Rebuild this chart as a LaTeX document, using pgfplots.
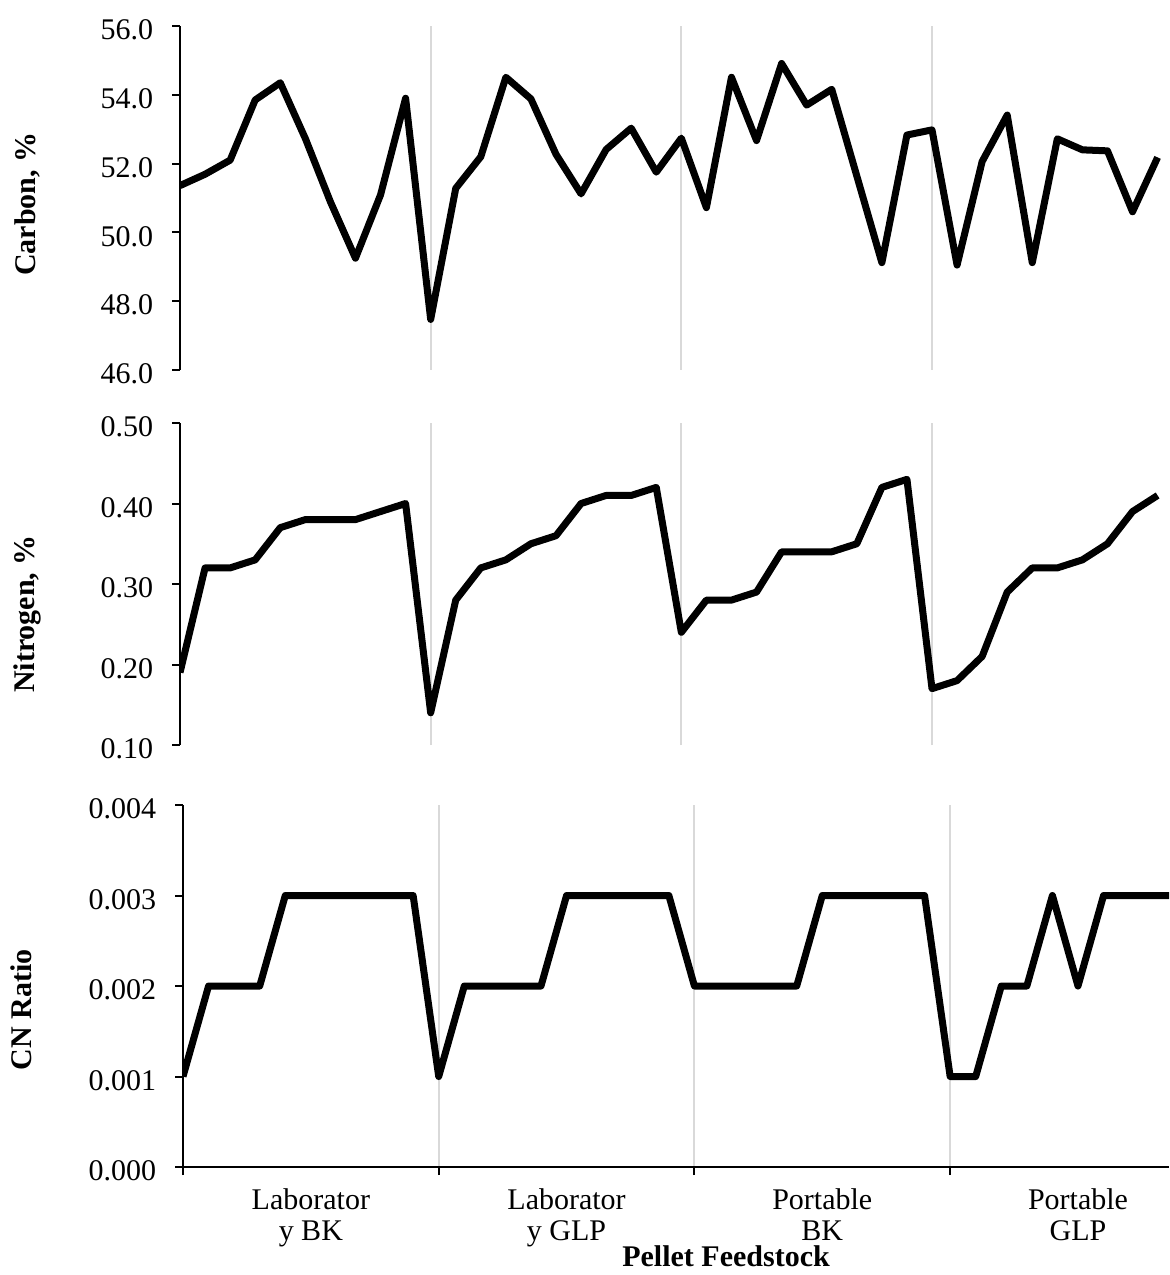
\documentclass[border=0pt]{standalone}
\usepackage{fontspec}
\setmainfont{Liberation Serif}
\usepackage{pgfplots}
\usepackage{pgfplotstable}
\pgfplotsset{compat=1.18}

\pgfplotstableread{
i C N R
0 51.36 0.19 0.001
1 51.69 0.32 0.002
2 52.10 0.32 0.002
3 53.85 0.33 0.002
4 54.35 0.37 0.003
5 52.73 0.38 0.003
6 50.89 0.38 0.003
7 49.25 0.38 0.003
8 51.09 0.39 0.003
9 53.90 0.40 0.003
10 47.47 0.14 0.001
11 51.28 0.28 0.002
12 52.20 0.32 0.002
13 54.51 0.33 0.002
14 53.88 0.35 0.002
15 52.27 0.36 0.003
16 51.12 0.40 0.003
17 52.41 0.41 0.003
18 53.03 0.41 0.003
19 51.75 0.42 0.003
20 52.74 0.24 0.002
21 50.72 0.28 0.002
22 54.51 0.28 0.002
23 52.67 0.29 0.002
24 54.91 0.34 0.002
25 53.70 0.34 0.003
26 54.16 0.34 0.003
27 51.64 0.35 0.003
28 49.12 0.42 0.003
29 52.83 0.43 0.003
30 52.98 0.17 0.001
31 49.05 0.18 0.001
32 52.06 0.21 0.002
33 53.41 0.29 0.002
34 49.12 0.32 0.003
35 52.72 0.32 0.002
36 52.40 0.33 0.003
37 52.37 0.35 0.003
38 50.60 0.39 0.003
39 52.18 0.41 0.003
}\data

\pgfplotsset{
  common/.style={
    scale only axis,
    axis lines*=left,
    tick align=outside,
    major tick length=3.2pt,
    axis line style={line width=0.8pt, black},
    tick style={black, line width=0.8pt},
    xmajorgrids,
    major grid style={draw=black!15, line width=0.8pt},
    xmin=0,
    scaled y ticks=false,
    /pgf/number format/assume math mode=true,
    yticklabel style={xshift=-4pt, yshift=-1.6pt},
    clip=true,
  },
  dline/.style={black, line width=2.8pt, line join=round},
}

\begin{document}
\begin{tikzpicture}[font=\fontsize{12}{12.5}\selectfont]
\path[use as bounding box] (0,0) rectangle (467.6pt,-510pt);

% Carbon
\begin{axis}[common,
  at={(72pt,-148pt)}, anchor=south west,
  width=395.6pt, height=137.6pt,
  xmax=39.455,
  xtick={10,20,30}, xticklabels={,,}, xtick style={draw=none},
  x axis line style={draw=none},
  ymin=46, ymax=56, ytick={46,48,50,52,54,56},
  yticklabel style={/pgf/number format/.cd, fixed, fixed zerofill, precision=1},
]
\addplot[dline] table[x=i, y=C] {\data};
\end{axis}

% Nitrogen
\begin{axis}[common,
  at={(72pt,-298pt)}, anchor=south west,
  width=395.6pt, height=128.8pt,
  xmax=39.455,
  xtick={10,20,30}, xticklabels={,,}, xtick style={draw=none},
  x axis line style={draw=none},
  ymin=0.1, ymax=0.5, ytick={0.1,0.2,0.3,0.4,0.5},
  yticklabel style={/pgf/number format/.cd, fixed, fixed zerofill, precision=2},
]
\addplot[dline] table[x=i, y=N] {\data};
\end{axis}

% CN Ratio
\begin{axis}[common,
  at={(73.2pt,-466.8pt)}, anchor=south west,
  width=394.4pt, height=144.8pt,
  xmax=38.56,
  xtick={0,10,20,30}, xticklabels={,,,},
  extra x ticks={5,15,25,35},
  extra x tick labels={{Laborator\\y BK},{Laborator\\y GLP},{Portable\\BK},{Portable\\GLP}},
  extra x tick style={grid=none, major tick length=0pt, xticklabel style={align=center, yshift=-5pt}},
  ymin=0, ymax=0.004, ytick={0,0.001,0.002,0.003,0.004},
  yticklabel style={/pgf/number format/.cd, fixed, fixed zerofill, precision=3},
]
\addplot[dline] table[x=i, y=R] {\data};
\end{axis}

\node[rotate=90, font=\fontsize{12}{12.5}\selectfont\bfseries] at (10.8pt,-81.6pt) {Carbon, \%};
\node[rotate=90, font=\fontsize{12}{12.5}\selectfont\bfseries] at (10.8pt,-245.6pt) {Nitrogen, \%};
\node[rotate=90, font=\fontsize{12}{12.5}\selectfont\bfseries] at (8.4pt,-404pt) {CN Ratio};
\node[font=\fontsize{12}{12.5}\selectfont\bfseries] at (290.4pt,-502.4pt) {Pellet Feedstock};
\end{tikzpicture}
\end{document}
